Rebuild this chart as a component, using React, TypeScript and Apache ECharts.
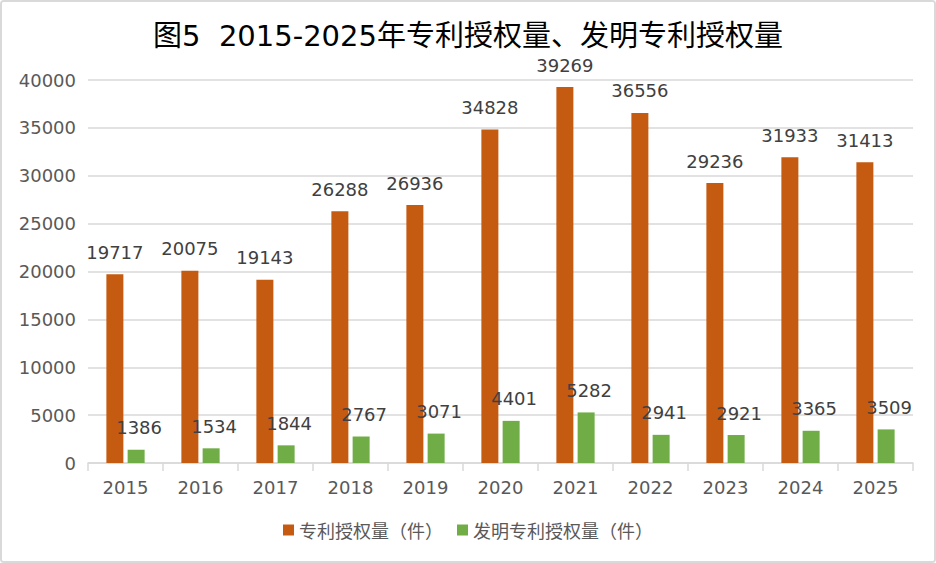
import React, { useEffect, useRef } from "react";
import * as echarts from "echarts";

const years = ["2015", "2016", "2017", "2018", "2019", "2020", "2021", "2022", "2023", "2024", "2025"];
const patentGrants = [19717, 20075, 19143, 26288, 26936, 34828, 39269, 36556, 29236, 31933, 31413];
const inventionGrants = [1386, 1534, 1844, 2767, 3071, 4401, 5282, 2941, 2921, 3365, 3509];
const seriesNames = ["专利授权量（件）", "发明专利授权量（件）"];
const titleText = "图5  2015-2025年专利授权量、发明专利授权量";

const FONT = "'DejaVu Sans', 'Noto Sans CJK SC', sans-serif";

export default function App() {
  const ref = useRef<HTMLDivElement>(null);
  useEffect(() => {
    document.body.style.margin = "0";
    const chart = echarts.init(ref.current!, null, { renderer: "svg" });
    chart.setOption({
      animation: false,
      backgroundColor: "#ffffff",
      textStyle: { fontFamily: FONT },
      title: {
        text: titleText,
        left: "center",
        top: 14,
        textStyle: { fontFamily: FONT, fontSize: 29, fontWeight: "normal", color: "#000000" },
      },
      grid: { left: 86, right: 21, top: 78, bottom: 98 },
      legend: {
        bottom: 17,
        left: "center",
        itemWidth: 11,
        itemHeight: 11,
        itemGap: 14,
        icon: "rect",
        textStyle: { fontFamily: "'Noto Sans CJK SC', sans-serif", fontSize: 18, color: "#595959" },
        data: seriesNames,
      },
      xAxis: {
        type: "category",
        data: years,
        axisLine: { lineStyle: { color: "#d9d9d9", width: 1.5 } },
        axisTick: { show: true, alignWithLabel: false, length: 8, lineStyle: { color: "#d9d9d9", width: 1.5 } },
        axisLabel: { color: "#595959", fontSize: 18, margin: 15, fontFamily: FONT },
      },
      yAxis: {
        type: "value",
        min: 0,
        max: 40000,
        interval: 5000,
        axisLine: { show: false },
        axisTick: { show: false },
        axisLabel: { color: "#595959", fontSize: 18, margin: 12, fontFamily: FONT, formatter: (v: number) => String(v) },
        splitLine: { lineStyle: { color: "#d9d9d9", width: 1.5 } },
      },
      series: [
        {
          name: seriesNames[0],
          type: "bar",
          data: patentGrants,
          barWidth: 17,
          barGap: "25%",
          itemStyle: { color: "#C55A11" },
          label: { show: true, position: "top", distance: 13, fontSize: 18, color: "#404040", fontFamily: FONT },
        },
        {
          name: seriesNames[1],
          type: "bar",
          data: inventionGrants,
          barWidth: 17,
          barGap: "25%",
          itemStyle: { color: "#70AD47" },
          label: { show: true, position: "top", distance: 13, fontSize: 18, color: "#404040", fontFamily: FONT, offset: [3, 0] },
        },
      ],
    });
    return () => chart.dispose();
  }, []);
  return (
    <div
      style={{
        width: 936,
        height: 563,
        boxSizing: "border-box",
        border: "2px solid #d9d9d9",
        borderRadius: 4,
        overflow: "hidden",
        background: "#fff",
      }}
    >
      <div ref={ref} style={{ width: 932, height: 559 }} />
    </div>
  );
}
